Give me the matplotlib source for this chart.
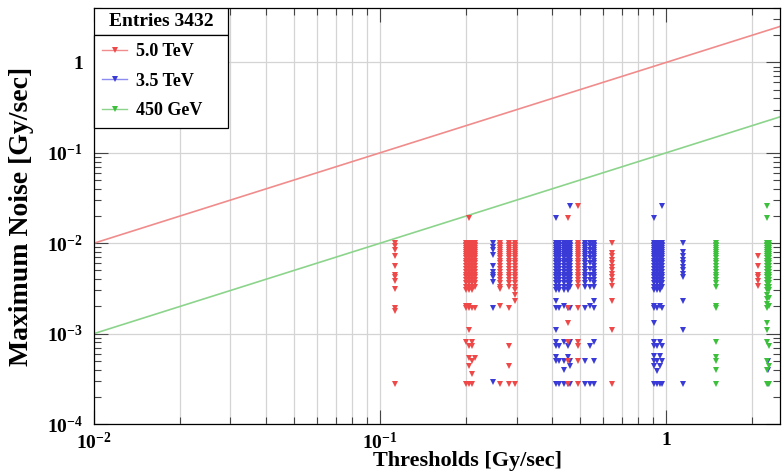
import matplotlib
matplotlib.use("Agg")
import matplotlib.pyplot as plt
import numpy as np
from matplotlib.lines import Line2D
from matplotlib.patches import Rectangle
from matplotlib.ticker import FuncFormatter, LogLocator, NullFormatter

plt.rcParams['font.family'] = ['Liberation Serif', 'DejaVu Serif']
plt.rcParams['font.weight'] = 'bold'
plt.rcParams['mathtext.fontset'] = 'custom'
plt.rcParams['mathtext.rm'] = 'Liberation Serif:bold'
plt.rcParams['mathtext.bf'] = 'Liberation Serif:bold'
plt.rcParams['mathtext.it'] = 'Liberation Serif:bold:italic'

# ---- data ----
entries = 3432
labels = ['5.0 TeV', '3.5 TeV', '450 GeV']

# reference lines: noise limit = threshold and threshold / 10
line_x = [0.01, 2.5]
red_line_y = [0.01, 2.5]
green_line_y = [0.001, 0.25]

# noise levels of the densely filled columns
dense = [0.0100, 0.0096, 0.0092, 0.0088, 0.0084, 0.0080, 0.0076, 0.0072, 0.0068,
         0.0064, 0.0060, 0.0056, 0.0052, 0.0048, 0.0045, 0.0042, 0.0039, 0.0036, 0.0033]

red_thr = [0.113, 0.200, 0.205, 0.210, 0.215, 0.263, 0.282, 0.297, 0.453, 0.491, 0.648, 2.09]
red_noise = [
    [0.0100, 0.0093, 0.0085, 0.0072, 0.0056, 0.0045, 0.0042, 0.0038, 0.0031, 0.0019, 0.0018, 0.00028],
    dense + [0.0030, 0.0020, 0.0019, 0.00080, 0.00028],
    dense + [0.019, 0.0030, 0.0020, 0.0019, 0.0011, 0.00073, 0.00054, 0.00044, 0.00028],
    dense + [0.0030, 0.0019, 0.00080, 0.00073, 0.00050, 0.00036, 0.00028],
    dense + [0.0019, 0.00054],
    dense + [0.0031, 0.0020, 0.00028],
    dense + [0.0019, 0.00073, 0.00044, 0.00028],
    dense + [0.0030, 0.0027, 0.0023, 0.00028],
    [0.019, 0.0019, 0.0013, 0.00080, 0.00050, 0.00028],
    dense + [0.026, 0.0019, 0.00080, 0.00073, 0.00050, 0.00028],
    [0.0100, 0.0078, 0.0072, 0.0066, 0.0060, 0.0055, 0.0050, 0.0046, 0.0042, 0.0038, 0.0034, 0.0023, 0.0011, 0.00028],
    [0.0072, 0.0056, 0.0045, 0.0042, 0.0038, 0.0034],
]

blue_thr = [0.248, 0.412, 0.422, 0.440, 0.452, 0.462, 0.520, 0.540, 0.560, 0.910, 0.930, 0.950, 0.967, 1.146, 2.27]
blue_noise = [
    [0.0100, 0.0090, 0.0085, 0.0075, 0.0056, 0.0048, 0.0045, 0.0042, 0.0037, 0.0019, 0.00029],
    dense + [0.019, 0.0030, 0.0023, 0.0019, 0.0011, 0.00080, 0.00073, 0.00055, 0.00050, 0.00028],
    dense + [0.0030, 0.0019, 0.00073, 0.00050, 0.00028],
    dense + [0.0030, 0.0020, 0.00080, 0.00050, 0.00040, 0.00028],
    dense + [0.0030, 0.0019, 0.00073, 0.00055, 0.00028],
    dense + [0.026, 0.0019, 0.00080, 0.00050, 0.00044, 0.00028],
    dense + [0.0019, 0.00050, 0.00028],
    [0.0100, 0.0092, 0.0084, 0.0076, 0.0068, 0.0060, 0.0052, 0.0045, 0.0039, 0.0033, 0.0020, 0.00073, 0.00028],
    dense + [0.0023, 0.0019, 0.00080, 0.00050, 0.00028],
    dense + [0.019, 0.0030, 0.0020, 0.0019, 0.0013, 0.00080, 0.00073, 0.00056, 0.00050, 0.00044, 0.00028],
    dense + [0.0030, 0.0019, 0.00073, 0.00050, 0.00039, 0.00028],
    dense + [0.0030, 0.0020, 0.00080, 0.00056, 0.00044, 0.00028],
    dense + [0.026, 0.0019, 0.00073, 0.00050, 0.00028],
    [0.0100, 0.0080, 0.0072, 0.0066, 0.0060, 0.0055, 0.0050, 0.0046, 0.0042, 0.0023, 0.0011, 0.00028],
    [0.00050, 0.00040, 0.00028],
]

green_thr = [1.49, 2.25, 2.29]
green_noise = [
    dense + [0.0020, 0.0019, 0.00080, 0.00055, 0.00050, 0.00040, 0.00028],
    dense + [0.026, 0.019, 0.0030, 0.0027, 0.0024, 0.0021, 0.0019, 0.0013, 0.0011, 0.00080, 0.00050, 0.00040, 0.00028],
    dense + [0.0030, 0.0025, 0.0020, 0.00073, 0.00044, 0.00028],
]

point_colors = ['#ee4848', '#3a3ad6', '#3cc03c']
line_colors = ['#f08c8c', '#8cd48c']

fig = plt.figure(figsize=(7.84, 4.72), dpi=100)
ax = fig.add_axes([94 / 784, 1 - 424 / 472, 686 / 784, 416 / 472])
ax.set_xscale('log')
ax.set_yscale('log')
ax.set_xlim(0.01, 2.5)
ax.set_ylim(1e-4, 4)

ax.plot(line_x, red_line_y, color=line_colors[0], lw=1.2, zorder=2)
ax.plot(line_x, green_line_y, color=line_colors[1], lw=1.2, zorder=2)

for thrs, noises, c in [(blue_thr, blue_noise, point_colors[1]),
                        (red_thr, red_noise, point_colors[0]),
                        (green_thr, green_noise, point_colors[2])]:
    for thr, vals in zip(thrs, noises):
        ax.plot([thr] * len(vals), vals, linestyle='none', marker='v', markersize=4.3,
                color=c, markeredgewidth=0, zorder=3)


def log_fmt(v, pos):
    e = int(round(np.log10(v)))
    if e == 0:
        return '1'
    return r'$\mathbf{10^{%d}}$' % e


ax.xaxis.set_major_locator(LogLocator(base=10, numticks=10))
ax.xaxis.set_minor_locator(LogLocator(base=10, subs=np.arange(2, 10), numticks=20))
ax.yaxis.set_major_locator(LogLocator(base=10, numticks=10))
ax.yaxis.set_minor_locator(LogLocator(base=10, subs=np.arange(2, 10), numticks=20))
ax.xaxis.set_major_formatter(FuncFormatter(log_fmt))
ax.yaxis.set_major_formatter(FuncFormatter(log_fmt))
ax.xaxis.set_minor_formatter(NullFormatter())
ax.yaxis.set_minor_formatter(NullFormatter())

ax.tick_params(which='both', direction='in', top=True, right=True, width=0.8, color='#444444')
ax.tick_params(which='major', length=10, labelsize=14)
ax.tick_params(axis='x', which='major', pad=6)
ax.tick_params(axis='y', which='major', pad=8)
ax.tick_params(which='minor', length=5)

ax.grid(True, which='major', axis='both', color='#d4d4d4', lw=0.9)
ax.grid(True, which='minor', axis='x', color='#d4d4d4', lw=0.9)
ax.set_axisbelow(True)
for s in ax.spines.values():
    s.set_linewidth(0.9)

ax.set_xlabel('Thresholds [Gy/sec]', fontsize=16, fontweight='bold', va='center')
ax.set_ylabel('Maximum Noise [Gy/sec]', fontsize=20, fontweight='bold', va='center')
ax.xaxis.set_label_coords(0.545, -0.089)
ax.yaxis.set_label_coords(-0.105, 0.5)

# legend in ROOT style: header box on top of the entries box
handles = [Line2D([], [], color=line_colors[0], lw=1, marker='v', markersize=4,
                  markerfacecolor=point_colors[0], markeredgewidth=0),
           Line2D([], [], color='#8c8cf0', lw=1, marker='v', markersize=4,
                  markerfacecolor=point_colors[1], markeredgewidth=0),
           Line2D([], [], color=line_colors[1], lw=1, marker='v', markersize=4,
                  markerfacecolor=point_colors[2], markeredgewidth=0)]
leg = ax.legend(handles, labels, loc='upper left', bbox_to_anchor=(0, 0.719, 0.195, 0.216),
                mode='expand', borderaxespad=0, fancybox=False, framealpha=1,
                edgecolor='black', prop={'size': 13, 'weight': 'bold'},
                handlelength=1.4, handletextpad=0.5, labelspacing=0.7, borderpad=0.45)
leg.get_frame().set_linewidth(0.9)
leg.set_zorder(6)
ax.add_patch(Rectangle((0, 0.935), 0.195, 0.065, transform=ax.transAxes,
                       facecolor='white', edgecolor='black', lw=0.9, zorder=6))
ax.text(0.0975, 0.967, 'Entries %d' % entries, transform=ax.transAxes, ha='center',
        va='center', fontsize=14, fontweight='bold', zorder=7)

fig.savefig('out.png', dpi=100)
